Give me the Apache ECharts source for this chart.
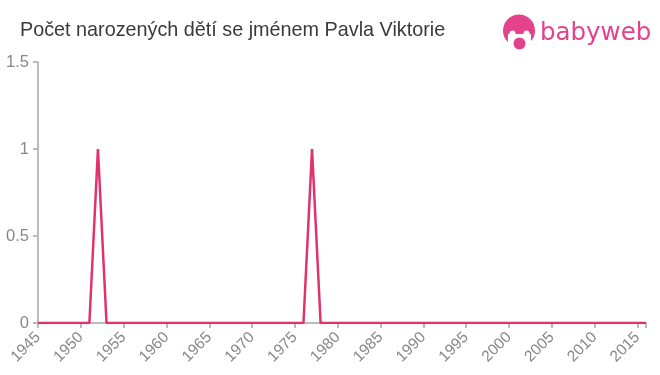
<!DOCTYPE html>
<html><head><meta charset="utf-8">
<script src="https://cdn.jsdelivr.net/npm/echarts@6/dist/echarts.min.js"></script>
<style>html,body{margin:0;padding:0;background:#fff}#c{width:660px;height:375px}</style>
</head><body><div id="c"></div>
<script>
const titleText = "Počet narozených dětí se jménem Pavla Viktorie";
const years = [1945,1946,1947,1948,1949,1950,1951,1952,1953,1954,1955,1956,1957,1958,1959,1960,1961,1962,1963,1964,1965,1966,1967,1968,1969,1970,1971,1972,1973,1974,1975,1976,1977,1978,1979,1980,1981,1982,1983,1984,1985,1986,1987,1988,1989,1990,1991,1992,1993,1994,1995,1996,1997,1998,1999,2000,2001,2002,2003,2004,2005,2006,2007,2008,2009,2010,2011,2012,2013,2014,2015,2016];
const counts = [0,0,0,0,0,0,0,1,0,0,0,0,0,0,0,0,0,0,0,0,0,0,0,0,0,0,0,0,0,0,0,0,1,0,0,0,0,0,0,0,0,0,0,0,0,0,0,0,0,0,0,0,0,0,0,0,0,0,0,0,0,0,0,0,0,0,0,0,0,0,0,0];
const yTicks = [0, 0.5, 1, 1.5];

const chart = echarts.init(document.getElementById('c'), null, {renderer:'canvas'});
const pink = '#e0336b';
const logo = '#e4428b';
const font = 'Liberation Sans, Arial, sans-serif';
chart.setOption({
  animation:false,
  title:{text:titleText,left:15,top:16,textStyle:{fontFamily:font,fontSize:19.8,fontWeight:'normal',color:'#3a3a3a'}},
  grid:{left:38,right:14,top:62,bottom:52,containLabel:false},
  xAxis:{type:'value',min:1945,max:2016,interval:5,
    axisLine:{lineStyle:{color:'#bbb',width:2}},
    axisTick:{show:true,length:5,lineStyle:{color:'#bbb',width:2}},
    splitLine:{show:false},
    axisLabel:{rotate:45,color:'#888',fontSize:15.5,fontFamily:font,margin:12,
      formatter:v=> (v%5===0? String(v):'')}
  },
  yAxis:{type:'value',min:0,max:1.5,interval:0.5,
    axisLine:{show:true,lineStyle:{color:'#bbb',width:2}},
    axisTick:{show:true,length:5,lineStyle:{color:'#bbb',width:2}},
    splitLine:{show:false},
    axisLabel:{color:'#888',fontSize:16.5,fontFamily:font,margin:9,
      formatter:v=> yTicks.includes(v)? String(v):''}
  },
  series:[{type:'line',data:years.map((y,i)=>[y,counts[i]]),symbol:'none',
    lineStyle:{color:pink,width:2.5},itemStyle:{color:pink}}],
  graphic:[
    {type:'circle',shape:{cx:519,cy:30.5,r:16},style:{fill:logo}},
    {type:'rect',shape:{x:508,y:34,width:23,height:16},style:{fill:'#fff'}},
    {type:'circle',shape:{cx:512.5,cy:33.5,r:3},style:{fill:'#fff'}},
    {type:'circle',shape:{cx:526.5,cy:33.5,r:3},style:{fill:'#fff'}},
    {type:'circle',shape:{cx:519.5,cy:43.5,r:6},style:{fill:logo}},
    {type:'text',x:540,y:21.5,style:{text:'babyweb',fill:logo,fontSize:24.5,fontFamily:'DejaVu Sans',verticalAlign:'top'}}
  ]
});
</script></body></html>
